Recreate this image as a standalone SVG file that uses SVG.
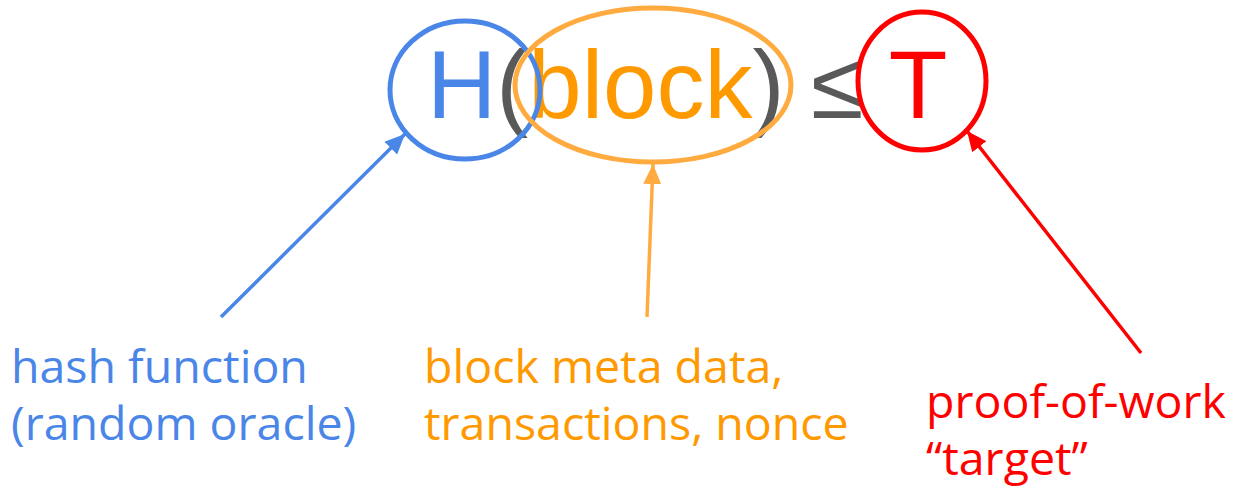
<svg xmlns="http://www.w3.org/2000/svg" width="1233" height="488" viewBox="0 0 1233 488">
<style>
.big{font-family:"Liberation Sans",Arial,sans-serif;font-size:96px}
.lbl{font-family:"Open Sans","Noto Sans",sans-serif;font-size:46.5px}
.blue{fill:#4a86e8}.orange{fill:#ff9900}.red{fill:#ff0000}.gray{fill:#595959}
.ring{fill:none;stroke-width:5}
.conn{fill:none;stroke-width:3.5}
</style>
<defs>
<marker id="ah-blue" markerUnits="userSpaceOnUse" markerWidth="22" markerHeight="18" refX="20" refY="9" orient="auto"><path d="M0,0L20,9L0,18Z" fill="#4a86e8"/></marker>
<marker id="ah-orange" markerUnits="userSpaceOnUse" markerWidth="22" markerHeight="18" refX="20" refY="9" orient="auto"><path d="M0,0L20,9L0,18Z" fill="#ffab40"/></marker>
<marker id="ah-red" markerUnits="userSpaceOnUse" markerWidth="22" markerHeight="18" refX="20" refY="9" orient="auto"><path d="M0,0L20,9L0,18Z" fill="#ff0000"/></marker>
</defs>
<rect width="1233" height="488" fill="#ffffff"/>
<g id="formula">
<text class="big" x="427" y="118"><tspan class="blue">H</tspan><tspan class="gray">(</tspan><tspan class="orange">block</tspan><tspan class="gray">) ≤ </tspan><tspan class="red">T</tspan></text>
</g>
<g id="node-hash">
<ellipse class="ring" cx="465" cy="90" rx="75" ry="69" stroke="#4a86e8"/>
</g>
<g id="node-block">
<ellipse class="ring" cx="653" cy="85" rx="138" ry="77" stroke="#ffab40"/>
</g>
<g id="node-target">
<ellipse class="ring" cx="922" cy="81" rx="64" ry="69" stroke="#ff0000"/>
</g>
<g id="connectors">
<line class="conn" x1="221" y1="317" x2="405" y2="134" stroke="#4a86e8" marker-end="url(#ah-blue)"/>
<line class="conn" x1="647" y1="317" x2="653" y2="164" stroke="#ffab40" marker-end="url(#ah-orange)"/>
<line class="conn" x1="1141" y1="353" x2="967" y2="131" stroke="#ff0000" marker-end="url(#ah-red)"/>
</g>
<g id="label-hash">
<text class="lbl blue"><tspan x="11" y="383">hash function</tspan><tspan x="11" y="440">(random oracle)</tspan></text>
</g>
<g id="label-block">
<text class="lbl orange"><tspan x="424" y="383">block meta data,</tspan><tspan x="424" y="440">transactions, nonce</tspan></text>
</g>
<g id="label-target">
<text class="lbl red"><tspan x="926" y="418">proof-of-work</tspan><tspan x="926" y="475">“target”</tspan></text>
</g>
</svg>
